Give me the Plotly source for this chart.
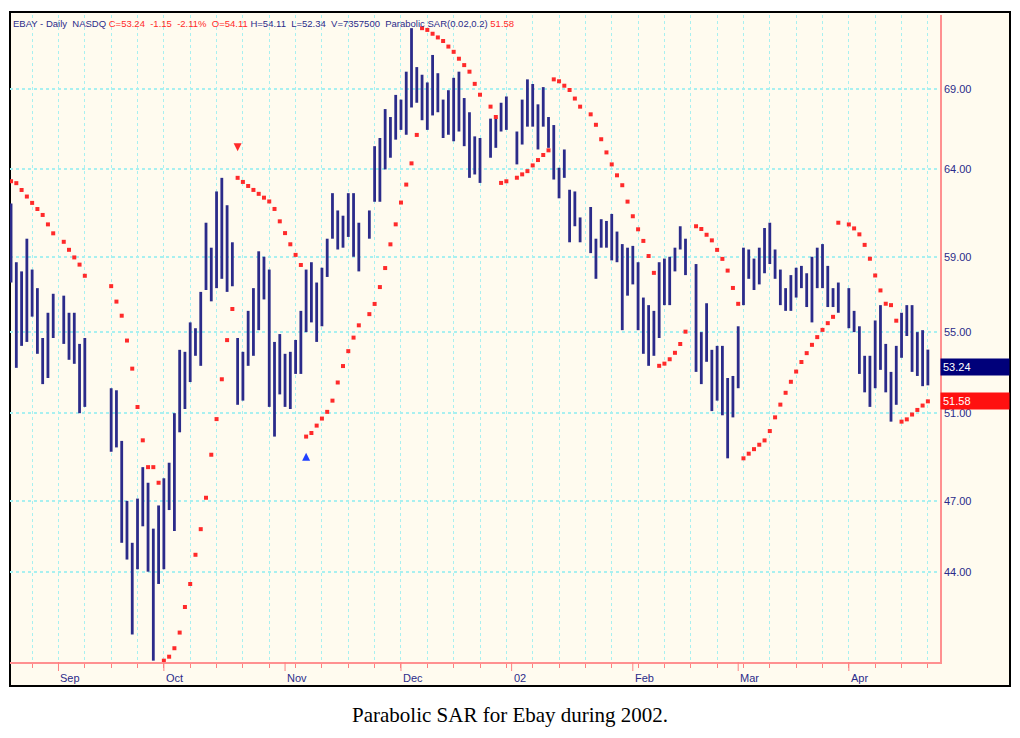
import math
import pandas as pd
import plotly.graph_objects as go

# trading-day slots (all weekdays, holidays left empty)
dates = pd.bdate_range("2001-08-21", "2002-04-22")
N = len(dates)

highs = [62.0, 58.7, 58.2, 60.0, 58.3, 57.3, 54.7, 56.0, 57.0, None,
         56.9, 56.0, 56.0, 54.4, 54.7, None, None, None, None, 52.2,
         52.1, 49.7, 47.0, 45.2, 47.1, 48.5, 47.8, 45.8, 46.8, 48.0,
         48.7, 51.0, 54.1, 54.0, 55.5, 55.2, 57.1, 60.9, 59.5, 62.7,
         63.5, 61.9, 59.8, 54.7, 54.0, 56.1, 57.3, 59.3, 59.0, 58.3,
         54.5, 54.9, 53.9, 54.0, 54.6, 56.1, 58.3, 58.7, 57.6, 58.4,
         60.0, 62.6, 61.6, 61.3, 62.6, 62.6, 60.9, None, 61.6, 65.4,
         65.9, 67.7, 67.2, 68.6, 68.3, 70.1, 73.0, 70.4, 69.9, 69.4,
         71.2, 70.0, 68.3, 68.9, 69.7, 70.1, 68.4, 67.5, 66.0, 65.9,
         None, 67.1, 67.2, 68.1, 68.5, None, 66.3, 68.3, 69.6, 69.3,
         68.0, 69.1, 67.2, 66.7, 64.1, 65.2, 62.8, 62.7, 61.2, None,
         61.8, 60.0, 61.1, 61.0, 61.4, 60.4, 59.7, 59.5, 59.6, 58.7,
         56.8, 56.4, 56.1, 58.7, 58.9, 59.0, 59.5, 60.7, 60.0, None,
         58.6, 55.0, 56.5, 54.1, 54.3, 54.3, 52.7, 52.8, 55.3, 59.5,
         59.4, 58.9, 59.5, 60.6, 60.9, 59.4, 58.3, 57.3, 58.0, 58.4,
         58.5, 58.1, 59.0, 59.5, 59.7, 58.5, 57.3, 57.6, None, 57.3,
         56.1, 55.3, 53.8, 53.8, 55.6, 56.4, 54.4, 53.0, 54.3, 56.0,
         56.4, 56.4, 55.0, 55.1, 54.11]
lows = [57.6, 53.2, 54.3, 54.5, 55.8, 53.9, 52.4, 52.7, 54.7, None,
        54.4, 53.6, 53.4, 51.0, 51.3, None, None, None, None, 49.2,
        49.4, 45.2, 44.5, 41.5, 44.1, 45.9, 44.0, 40.5, 43.5, 44.1,
        46.6, 45.7, 50.1, 51.2, 52.5, 53.8, 53.3, 57.2, 56.6, 57.3,
        57.8, 57.1, 57.4, 51.4, 51.6, 53.3, 53.8, 55.1, 56.7, 51.3,
        49.9, 51.9, 51.3, 51.2, 52.9, 52.9, 55.0, 55.5, 54.5, 55.3,
        57.9, 60.0, 59.4, 59.5, 60.1, 59.0, 58.2, None, 60.0, 62.1,
        62.1, 64.0, 64.7, 65.8, 66.4, 66.1, 67.8, 68.1, 67.0, 66.4,
        67.3, 67.5, 65.9, 66.1, 65.7, 66.3, 65.4, 63.5, 63.7, 63.2,
        None, 64.7, 65.3, 66.3, 66.4, None, 64.3, 65.5, 66.6, 66.6,
        65.2, 66.6, 65.3, 63.4, 62.3, 63.5, 59.8, 60.7, 59.8, None,
        59.2, 57.8, 59.5, 59.5, 58.8, 58.7, 55.1, 56.9, 57.5, 55.1,
        53.9, 53.3, 53.8, 54.7, 56.4, 56.4, 58.2, 59.4, 58.0, None,
        53.0, 52.4, 53.5, 51.1, 51.6, 50.9, 48.9, 50.8, 52.2, 56.4,
        57.8, 57.2, 57.5, 58.1, 58.6, 57.8, 56.4, 56.1, 56.1, 56.8,
        57.3, 56.3, 55.5, 57.3, 57.3, 56.3, 56.3, 56.0, None, 55.2,
        55.0, 52.9, 52.0, 51.3, 52.2, 53.1, 52.0, 50.6, 51.4, 53.7,
        54.8, 53.0, 52.8, 52.3, 52.34]

month_labels = ["Sep", "Oct", "Nov", "Dec", "02", "Feb", "Mar", "Apr"]
price_ticks = [44, 47, 51, 55, 59, 64, 69]

last_close = 53.24
last_sar = 51.58
sar_start, af_step, af_max = 63.3, 0.02, 0.2
arrow_until = 80  # signal arrows shown only on the early reversals, as in the source

NAVY = "#2b2b8a"
RED = "#ff2a2a"

# ---- Parabolic SAR (0.02, 0.2) from the bars ----
valid = [i for i in range(N) if highs[i] is not None]
sar_x, sar_y, rev_up, rev_dn = [], [], [], []
sar, ep, af, up = sar_start, lows[valid[0]], af_step, False
hist = []
for k, i in enumerate(valid):
    h, l = highs[i], lows[i]
    if k > 0:
        sar = sar + af * (ep - sar)
        if up:
            sar = min([sar] + [lows[j] for j in hist[-2:]])
        else:
            sar = max([sar] + [highs[j] for j in hist[-2:]])
        if up and l < sar:
            up, sar, ep, af = False, ep, l, af_step
            rev_dn.append((i, sar))
        elif (not up) and h > sar:
            up, sar, ep, af = True, ep, h, af_step
            rev_up.append((i, sar))
        else:
            if up and h > ep:
                ep, af = h, min(af + af_step, af_max)
            elif (not up) and l < ep:
                ep, af = l, min(af + af_step, af_max)
    sar_x.append(i)
    sar_y.append(sar)
    hist.append(i)
rev_up = [p for p in rev_up if p[0] < arrow_until]
rev_dn = [p for p in rev_dn if p[0] < arrow_until]

# ---- bars ----
bx, by = [], []
for i in range(N):
    if highs[i] is None:
        continue
    bx += [i, i, None]
    by += [lows[i], highs[i], None]

fig = go.Figure()
fig.add_trace(go.Scatter(x=bx, y=by, mode="lines", line=dict(color=NAVY, width=2.8),
                         hoverinfo="skip", showlegend=False))
fig.add_trace(go.Scatter(x=sar_x, y=sar_y, mode="markers",
                         marker=dict(color=RED, size=4, symbol="square"), showlegend=False))
fig.add_trace(go.Scatter(x=[p[0] for p in rev_up], y=[p[1] * 0.985 for p in rev_up], mode="markers",
                         marker=dict(color="#2040ff", size=8, symbol="arrow-up"), showlegend=False))
fig.add_trace(go.Scatter(x=[p[0] for p in rev_dn], y=[p[1] * 1.025 for p in rev_dn], mode="markers",
                         marker=dict(color=RED, size=8, symbol="arrow-down"), showlegend=False))

mondays = [i for i, d in enumerate(dates) if d.weekday() == 0]
month_first = [i for i in range(1, N) if dates[i].month != dates[i - 1].month]

fig.update_layout(
    width=1012, height=730,
    margin=dict(l=2, r=80, t=7, b=76),
    paper_bgcolor="white", plot_bgcolor="#fffbef",
    font=dict(family="Arial, Liberation Sans", size=11, color=NAVY),
    xaxis=dict(range=[-0.2, 176.3], tickvals=mondays, ticktext=[""] * len(mondays),
               ticks="outside", ticklen=4, tickcolor="#ff8080",
               showgrid=True, gridcolor="#a8f0f0", griddash="dot", gridwidth=1,
               showline=True, linecolor="#ff9090", linewidth=2, zeroline=False, fixedrange=True),
    yaxis=dict(type="log", side="right", range=[math.log10(40.45), math.log10(73.9)],
               tickvals=price_ticks, ticktext=[f"{v:.2f}" for v in price_ticks],
               ticks="", showgrid=True, gridcolor="#a8f0f0", griddash="dot", gridwidth=1.5,
               showline=True, linecolor="#ff9090", linewidth=1.5, zeroline=False,
               tickfont=dict(size=11, color=NAVY)),
)
# chart frame
fig.add_shape(type="rect", xref="paper", yref="paper", x0=0, x1=1000 / 930, y0=-24 / 647, y1=1 + 3 / 647,
              line=dict(color="black", width=2), fillcolor="#fffbef", layer="below")
# month labels
for lab, i in zip(month_labels, month_first):
    fig.add_shape(type="line", x0=i, x1=i, yref="paper", y0=0, y1=-9 / 647,
                  line=dict(color="#ff8080", width=1))
    fig.add_annotation(x=i, y=-0.012, yref="paper", text=lab, showarrow=False,
                       xanchor="left", yanchor="top", font=dict(size=11, color=NAVY))
# header
hdr = (f"<span style='color:{NAVY}'>EBAY - Daily  NASDQ </span>"
       f"<span style='color:{RED}'>C=53.24  -1.15  -2.11%  O=54.11 </span>"
       f"<span style='color:{NAVY}'>H=54.11  L=52.34  V=7357500  Parabolic SAR(0.02,0.2) </span>"
       f"<span style='color:{RED}'>51.58</span>")
fig.add_annotation(xref="paper", yref="paper", x=0.001, y=0.999, xanchor="left", yanchor="top",
                   text=hdr, showarrow=False, font=dict(size=9.5))
# last value boxes
for v, col in [(last_close, "#00007a"), (last_sar, "#ff1010")]:
    fig.add_annotation(xref="paper", x=1.0, y=math.log10(v), xanchor="left", text=f"{v:.2f}",
                       showarrow=False, bgcolor=col, font=dict(color="white", size=11),
                       width=64, align="left", borderpad=2)
# caption
fig.add_annotation(xref="paper", yref="paper", x=500 / 930, y=-53 / 647, yanchor="middle",
                   text="Parabolic SAR for Ebay during 2002.", showarrow=False,
                   font=dict(family="Liberation Serif, Times New Roman", size=21, color="black"))

fig.write_html("out.html")
